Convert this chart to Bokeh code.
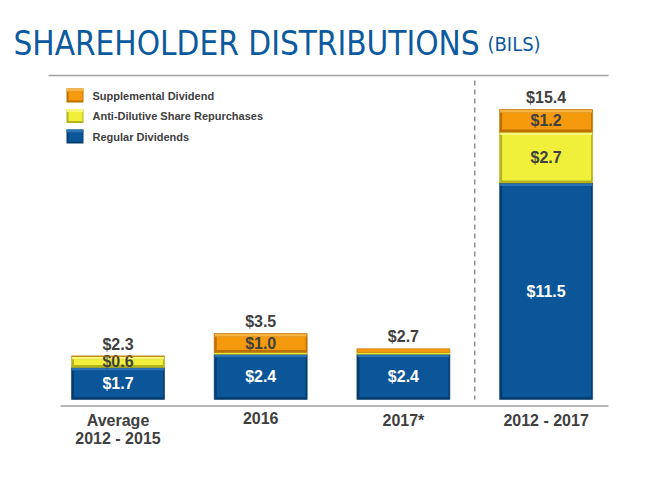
from bokeh.plotting import figure
from bokeh.models import Range1d
from bokeh.core.properties import value
from bokeh.embed import file_html
from bokeh.resources import INLINE

# ---------------- data ----------------
categories = ["Average\n2012 - 2015", "2016", "2017*", "2012 - 2017"]
regular = [1.7, 2.4, 2.4, 11.5]
repurchases = [0.6, 0.1, 0.1, 2.7]
supplemental = [0.0, 1.0, 0.2, 1.2]
totals = [2.3, 3.5, 2.7, 15.4]
series_names = ["Regular Dividends", "Anti-Dilutive Share Repurchases", "Supplemental Dividend"]

# ---------------- layout helpers (canvas pixels -> data) ----------------
W, H = 650, 461
PXX = 142.7          # px per category
PY = 18.83           # px per $bn
BASE = 399           # canvas y of zero
X0 = -117.5 / PXX


def X(cx):
    return X0 + cx / PXX


def Y(cy):
    return (BASE - cy) / PY


p = figure(width=W, height=H, output_backend="svg", toolbar_location=None,
           x_range=Range1d(X(0), X(W)), y_range=Range1d(Y(H), Y(0)),
           min_border=0, outline_line_color=None)
p.axis.visible = False
p.grid.visible = False
p.background_fill_color = "white"
p.border_fill_color = "white"

FONT = value("Liberation Sans")
TFONT = value("DejaVu Sans Condensed, DejaVu Sans, sans-serif")
DARK = "#404040"

# palettes: face, light (top bevel), dark (edge)
styles = [
    ("#0b5698", "#2a72b6", "#073d6e"),   # blue
    ("#f0f03a", "#f8f878", "#b4b41c"),   # yellow
    ("#f49a0c", "#f8b440", "#bd7000"),   # orange
]

xs = list(range(len(categories)))
BW = 93 / PXX
INX = 2.5 / PXX
INY = 2.5 / PY
TOPY = 3 / PY

segments = [regular, repurchases, supplemental]
bottoms = [0.0] * len(xs)
for si, seg in enumerate(segments):
    face, light, dark = styles[si]
    tops = [b + v for b, v in zip(bottoms, seg)]
    left = [x - BW / 2 for x in xs]
    right = [x + BW / 2 for x in xs]
    big = [(t - b) * PY >= 9 for b, t in zip(bottoms, tops)]
    # outer (edge)
    p.quad(left=left, right=right, bottom=bottoms, top=tops,
           fill_color=[dark if g else face for g in big],
           line_color=dark, line_width=0.6)
    # face + top highlight for large segments
    idx = [i for i in range(len(xs)) if big[i] and seg[i] > 0]
    if idx:
        p.quad(left=[left[i] + INX for i in idx], right=[right[i] - INX * 0.6 for i in idx],
               bottom=[bottoms[i] + INY for i in idx], top=[tops[i] - TOPY for i in idx],
               fill_color=face, line_color=None)
        p.quad(left=[left[i] + 0.6 / PXX for i in idx], right=[right[i] - 0.6 / PXX for i in idx],
               bottom=[tops[i] - TOPY for i in idx], top=[tops[i] - 0.5 / PY for i in idx],
               fill_color=light, line_color=None)
    # labels inside segments
    lab = [i for i in range(len(xs)) if seg[i] >= 0.5]
    mids = [(bottoms[i] + tops[i]) / 2 for i in lab]
    p.text(x=[xs[i] for i in lab], y=mids, text=["$%.1f" % seg[i] for i in lab],
           text_font=FONT, text_font_style="bold", text_font_size="16px",
           text_color="white" if si == 0 else DARK,
           text_align="center", text_baseline="middle")
    bottoms = tops

# totals above bars
p.text(x=xs, y=totals, text=["$%.1f" % t for t in totals], text_font=FONT,
       text_font_style="bold", text_font_size="16px", text_color=DARK,
       text_align="center", text_baseline="middle", y_offset=-12)

# category labels
p.text(x=xs, y=[0] * len(xs), text=categories, text_font=FONT,
       text_font_style="bold", text_font_size="16px", text_color=DARK,
       text_align="center", text_baseline="top", y_offset=12, text_line_height=1.1)

# baseline and top rule
p.segment(x0=[X(60)], x1=[X(608)], y0=[Y(405.5)], y1=[Y(405.5)], line_color="#a0a0a0", line_width=1.5)
p.segment(x0=[X(48)], x1=[X(608)], y0=[Y(75)], y1=[Y(75)], line_color="#a0a0a0", line_width=1.5)
# dashed divider
p.segment(x0=[(xs[2] + xs[3]) / 2], x1=[(xs[2] + xs[3]) / 2], y0=[Y(80)], y1=[0],
          line_color="#909090", line_width=1.5, line_dash="5 4")

# legend (manual)
leg_order = [2, 1, 0]
leg_top = [88, 108.5, 129]
for k, si in enumerate(leg_order):
    face, light, dark = styles[si]
    t = leg_top[k]
    p.quad(left=[X(66)], right=[X(83)], top=[Y(t)], bottom=[Y(t + 14)],
           fill_color=dark, line_color=None)
    p.quad(left=[X(68)], right=[X(82)], top=[Y(t + 3)], bottom=[Y(t + 12)],
           fill_color=face, line_color=None)
    p.quad(left=[X(66)], right=[X(83)], top=[Y(t)], bottom=[Y(t + 3)],
           fill_color=light, line_color=None)
    p.text(x=[X(92)], y=[Y(t + 7)], text=[series_names[si]], text_font=FONT,
           text_font_style="bold", text_font_size="11px", text_color=DARK,
           text_align="left", text_baseline="middle")

# title
p.text(x=[X(13)], y=[Y(43)], text=["SHAREHOLDER DISTRIBUTIONS"],
       text_font=TFONT, text_font_size="33px",
       text_color="#0b5aa0", text_align="left", text_baseline="alphabetic")
p.text(x=[X(487)], y=[Y(43)], text=["(BILS)"],
       text_font=TFONT, text_font_size="20px",
       text_color="#0b5aa0", text_align="left", text_baseline="alphabetic")

open("out.html", "w").write(file_html(p, INLINE))
